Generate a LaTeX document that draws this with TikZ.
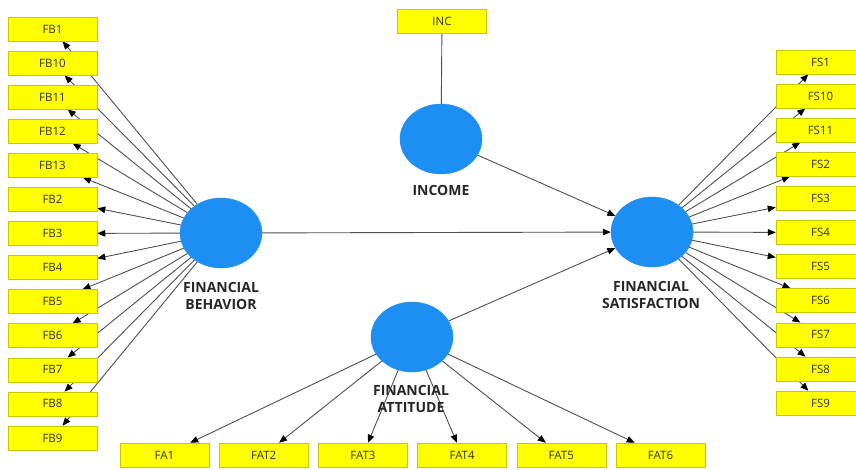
\documentclass[tikz,border=0pt]{standalone}
\usepackage{fontspec}
\setmainfont{Open Sans}
\usetikzlibrary{arrows.meta,backgrounds,shapes.geometric}
\definecolor{latblue}{HTML}{1E8FF2}
\definecolor{boxyellow}{HTML}{FFFF00}
\definecolor{boxedge}{HTML}{C8C800}
\definecolor{linegray}{HTML}{505050}
\begin{document}
\begin{tikzpicture}[x=1pt,y=-1pt,
  ind/.style={draw=boxedge, line width=0.5pt, fill=boxyellow, minimum width=89pt,
    minimum height=24pt, inner sep=0pt, text=black!80,
    font=\fontsize{11.5}{13}\selectfont},
  lat/.style={ellipse, fill=latblue, draw=latblue, minimum width=82pt,
    minimum height=70pt, inner sep=0pt},
  lbl/.style={font=\fontsize{14}{17}\selectfont\bfseries, align=center,
    text=black!85, inner sep=0pt},
  link/.style={draw=linegray, line width=0.9pt},
  arr/.style={link, -{Triangle[length=8pt,width=6.5pt,color=black]}},
]
\useasboundingbox (0,0) rectangle (856,470);
\clip (0,0) rectangle (856,470);

% latent variables
\node[lat] (fb) at (221,233) {};
\node[lat] (inc) at (441,139) {};
\node[lat] (fs) at (652,232) {};
\node[lat] (fa) at (412,337) {};

% labels
\node[lbl] (lfb) at (221,295.5) {FINANCIAL\\BEHAVIOR};
\node[lbl] (linc) at (441,190) {INCOME};
\node[lbl] (lfs) at (651,294.5) {FINANCIAL\\SATISFACTION};
\node[lbl] (lfa) at (411,398.5) {FINANCIAL\\ATTITUDE};

% indicators
\node[ind] (incbox) at (442,21) {INC};
\foreach \t [count=\i from 0] in {FB1,FB10,FB11,FB12,FB13,FB2,FB3,FB4,FB5,FB6,FB7,FB8,FB9}
  \node[ind] (b\i) at (52.5,29+34.08*\i) {\t};
\foreach \t [count=\i from 0] in {FS1,FS10,FS11,FS2,FS3,FS4,FS5,FS6,FS7,FS8,FS9}
  \node[ind] (s\i) at (820.5,62+34.1*\i) {\t};
\foreach \t [count=\i from 0] in {FA1,FAT2,FAT3,FAT4,FAT5,FAT6}
  \node[ind] (a\i) at (164.5+99.2*\i,455) {\t};

\begin{pgfonlayer}{background}
  \fill[white] (0,0) rectangle (856,470);
  \foreach \i in {0,...,12} \draw[arr] (fb) -- (b\i);
  \foreach \i in {0,...,10} \draw[arr] (fs) -- (s\i);
  \foreach \i in {0,...,5} \draw[arr] (fa) -- (a\i);
  \draw[link] (incbox) -- (inc);
  \draw[arr] (fb) -- (fs);
  \draw[arr] (inc) -- (fs);
  \draw[arr] (fa) -- (fs);
\end{pgfonlayer}
\end{tikzpicture}
\end{document}
